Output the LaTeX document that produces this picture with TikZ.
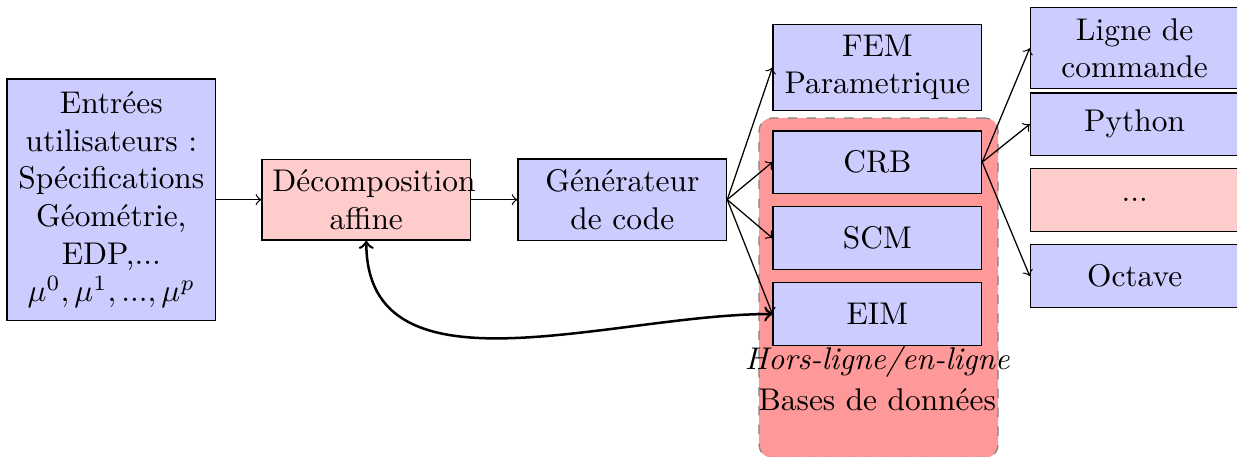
\documentclass[tikz,border=0pt]{standalone}

\begin{document}
\begin{tikzpicture}[
    bloc/.style={draw, fill=blue!20, text width=2.1cm, align=center, minimum height=0.7cm},
    bloc rouge/.style={bloc, fill=red!20},
    zone/.style={draw=gray, dashed, fill=red!40, rounded corners},
  ]
  \useasboundingbox (0,0) rectangle (13.846,5.115);

  % zone des bases de donnees (dessinee en premier)
  \node [zone, minimum width=2.675cm, minimum height=3.80cm] (bdd) at (9.834,1.893) {};

  % entrees
  \node [bloc, minimum height=2.7cm] (entrees) at (1.246,2.88) {Entrées\\utilisateurs :\\Spécifications\\Géométrie,\\EDP,...\\$\mu^0, \mu^1, ..., \mu^p$};

  % chaine principale
  \node [bloc rouge] (decomp) at (4.10,2.88) {Décomposition\\affine};
  \node [bloc] (gen) at (6.966,2.88) {Générateur\\de code};

  % methodes
  \node [bloc] (fem) at (9.82,4.36) {FEM\\Parametrique};
  \node [bloc] (crb) at (9.82,3.30) {CRB};
  \node [bloc] (scm) at (9.82,2.45) {SCM};
  \node [bloc] (eim) at (9.82,1.60) {EIM};
  \node [align=center] (hors) at (9.82,0.88) {\textit{Hors-ligne/en-ligne}\\[1pt]Bases de données};

  % interfaces
  \node [bloc] (ligne) at (12.70,4.575) {Ligne de\\commande};
  \node [bloc] (python) at (12.70,3.725) {Python};
  \node [bloc rouge] (etc) at (12.70,2.875) {...};
  \node [bloc] (octave) at (12.70,2.025) {Octave};

  % fleches
  \draw [->] (entrees) -- (decomp);
  \draw [->] (decomp) -- (gen);
  \foreach \n in {fem,crb,scm,eim}
    \draw [->] (gen.east) -- (\n.west);
  \foreach \n in {ligne,python,octave}
    \draw [->] (crb.east) -- (\n.west);
  \draw [<->, thick] (decomp.south) to [out=-90, in=180] (eim.west);
\end{tikzpicture}
\end{document}
